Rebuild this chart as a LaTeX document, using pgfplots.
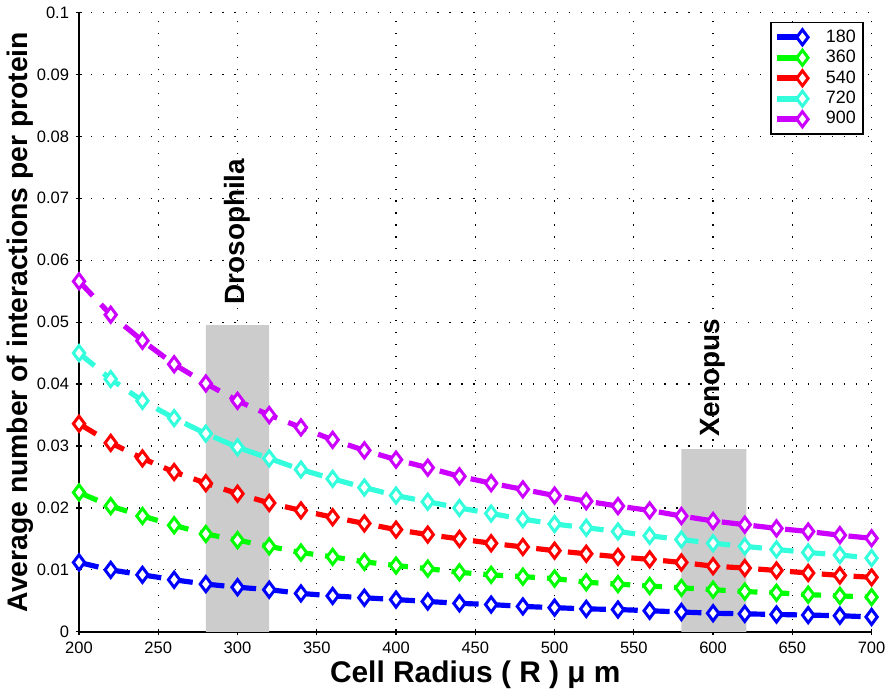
\documentclass[border=0pt]{standalone}
\usepackage{fontspec}
\setmainfont{Liberation Sans}
\usepackage{pgfplots}
\pgfplotsset{compat=1.18}
\definecolor{cA}{RGB}{0,0,255}
\definecolor{cB}{RGB}{0,255,0}
\definecolor{cC}{RGB}{255,0,0}
\definecolor{cD}{RGB}{51,255,221}
\definecolor{cE}{RGB}{204,0,255}
\definecolor{shade}{RGB}{204,204,204}
\begin{document}
\begin{tikzpicture}
\begin{axis}[
    scale only axis,
    width=398pt, height=311pt,
    xmin=200, xmax=700, ymin=0, ymax=0.1,
    xtick={200,250,...,700},
    ytick={0,0.01,...,0.1},
    scaled y ticks=false,
    yticklabel style={/pgf/number format/fixed,/pgf/number format/precision=2},
    /pgf/number format/assume math mode=true,
    tick label style={font=\fontsize{8.3}{9}\selectfont},
    axis x line=bottom, axis y line=left,
    axis line style={-, line width=1pt},
    tick style={black, line width=0.6pt},
    major tick length=3pt,
    grid=major,
    grid style={black, line width=0.6pt, dash pattern=on 0.6pt off 5.4pt},
    xlabel={\bfseries Cell Radius ( R ) μ m},
    ylabel={\bfseries Average number of interactions per protein},
    xlabel style={font=\fontsize{15}{16}\selectfont, yshift=3pt},
    ylabel style={font=\fontsize{14.2}{15}\selectfont, yshift=-5pt},
    legend pos=north east,
    legend style={font=\fontsize{9}{10}\selectfont, draw=black, line width=0.8pt, inner sep=1.5pt, row sep=-1.5pt, at={(0.99,0.985)},
        nodes={text width=22pt, align=right}},
    legend cell align=right,
    legend image code/.code={\draw[#1, solid, line width=3pt] (0pt,0pt) -- (0.4cm,0pt); \draw[#1, solid, fill] plot[mark=diamond*] coordinates {(0.45cm,0pt)};},
    every axis plot/.append style={line width=2.6pt, dash pattern=on 10pt off 6pt, mark=diamond*, mark size=3.8pt,
        mark options={solid, line width=1.5pt, fill=white}},
]
\addplot[fill=shade, draw=none, mark=none, forget plot] coordinates {(280,0) (280,0.0495) (320,0.0495) (320,0)} \closedcycle;
\addplot[fill=shade, draw=none, mark=none, forget plot] coordinates {(580,0) (580,0.0295) (621,0.0295) (621,0)} \closedcycle;
\addplot[cA] coordinates {
(200,0.0112) (220,0.0100) (240,0.0092) (260,0.0084) (280,0.0077) (300,0.0072) (320,0.0068) (340,0.0062) (360,0.0058) (380,0.0055) (400,0.0052) (420,0.0049) (440,0.0046) (460,0.0044) (480,0.0041) (500,0.0039) (520,0.0037) (540,0.0036) (560,0.0034) (580,0.0032) (600,0.0030) (620,0.0029) (640,0.0028) (660,0.0027) (680,0.0026) (700,0.0024)};
\addlegendentry{180}
\addplot[cB] coordinates {
(200,0.0225) (220,0.0203) (240,0.0187) (260,0.0172) (280,0.0158) (300,0.0148) (320,0.0138) (340,0.0128) (360,0.0121) (380,0.0113) (400,0.0107) (420,0.0102) (440,0.0096) (460,0.0092) (480,0.0089) (500,0.0086) (520,0.0080) (540,0.0077) (560,0.0074) (580,0.0071) (600,0.0068) (620,0.0065) (640,0.0063) (660,0.0060) (680,0.0058) (700,0.0056)};
\addlegendentry{360}
\addplot[cC] coordinates {
(200,0.0336) (220,0.0305) (240,0.0280) (260,0.0258) (280,0.0240) (300,0.0223) (320,0.0208) (340,0.0196) (360,0.0185) (380,0.0175) (400,0.0165) (420,0.0157) (440,0.0150) (460,0.0143) (480,0.0137) (500,0.0131) (520,0.0126) (540,0.0121) (560,0.0117) (580,0.0112) (600,0.0106) (620,0.0103) (640,0.0099) (660,0.0095) (680,0.0091) (700,0.0088)};
\addlegendentry{540}
\addplot[cD] coordinates {
(200,0.0450) (220,0.0408) (240,0.0373) (260,0.0345) (280,0.0320) (300,0.0298) (320,0.0280) (340,0.0262) (360,0.0247) (380,0.0233) (400,0.0220) (420,0.0210) (440,0.0200) (460,0.0191) (480,0.0182) (500,0.0174) (520,0.0168) (540,0.0162) (560,0.0155) (580,0.0149) (600,0.0143) (620,0.0138) (640,0.0133) (660,0.0128) (680,0.0124) (700,0.0119)};
\addlegendentry{720}
\addplot[cE] coordinates {
(200,0.0566) (220,0.0512) (240,0.0470) (260,0.0432) (280,0.0401) (300,0.0373) (320,0.0350) (340,0.0330) (360,0.0310) (380,0.0293) (400,0.0278) (420,0.0265) (440,0.0251) (460,0.0240) (480,0.0230) (500,0.0220) (520,0.0211) (540,0.0203) (560,0.0196) (580,0.0187) (600,0.0179) (620,0.0173) (640,0.0167) (660,0.0162) (680,0.0156) (700,0.0151)};
\addlegendentry{900}
\node[rotate=90, anchor=west, font=\bfseries\fontsize{14}{15}\selectfont, inner sep=0pt] at (axis cs:300,0.0528) {Drosophila};
\node[rotate=90, anchor=west, font=\bfseries\fontsize{14}{15}\selectfont, inner sep=0pt] at (axis cs:600,0.0315) {Xenopus};
\end{axis}
\end{tikzpicture}
\end{document}
